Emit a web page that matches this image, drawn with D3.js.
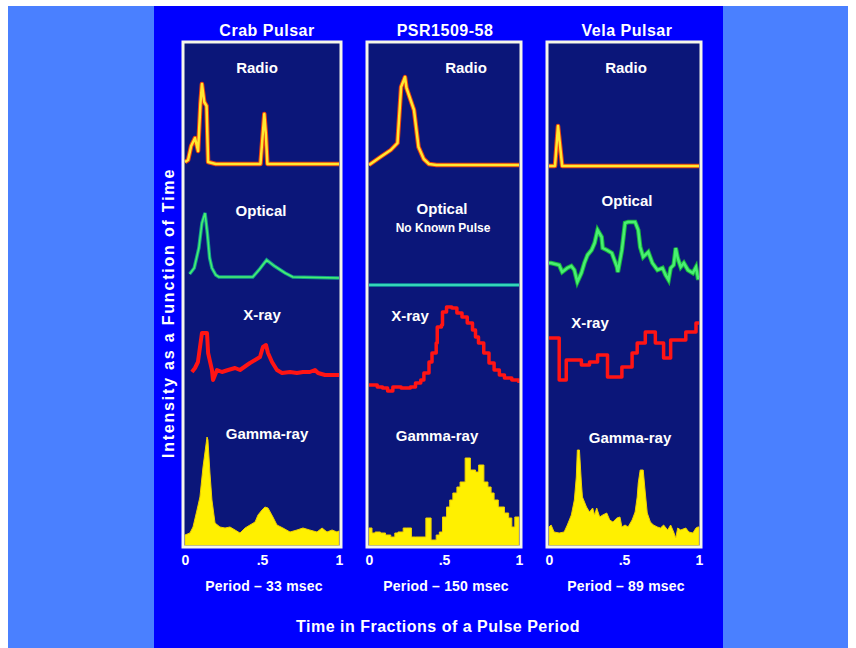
<!DOCTYPE html>
<html>
<head>
<meta charset="utf-8">
<script src="https://cdn.jsdelivr.net/npm/d3@7"></script>
<style>
  body { margin: 0; background: #fff; }
  text { font-family: "Liberation Sans", Arial, sans-serif; font-weight: bold; fill: #fff; }
</style>
</head>
<body>
<div id="chart"></div>
<script>
// pulse profiles: [phase, intensity above band baseline]
var crabRadio = [[0,2],[0.02,4],[0.04,18],[0.065,26],[0.085,13],[0.1,60],[0.11,80],[0.125,62],[0.14,58],[0.15,2],[0.2,0],[0.49,0],[0.505,30],[0.515,50],[0.525,30],[0.535,0],[1,0]];
var crabOptical = [[0.03,4],[0.06,10],[0.09,30],[0.11,55],[0.13,65],[0.145,45],[0.16,20],[0.175,10],[0.2,3],[0.22,1],[0.44,1],[0.48,8],[0.53,18],[0.58,12],[0.65,5],[0.7,1],[1,0]];
var crabXray = [[0.045,9],[0.065,13],[0.084,19],[0.11,48],[0.143,48],[0.15,28],[0.175,11],[0.182,1],[0.208,11],[0.24,9],[0.28,11],[0.325,13],[0.357,11],[0.403,16],[0.422,18],[0.455,21],[0.487,24],[0.506,34],[0.526,36],[0.539,28],[0.565,19],[0.597,11],[0.63,8],[0.682,9],[0.727,8],[0.766,9],[0.81,9],[0.844,11],[0.864,8],[0.909,6],[1,6]];
var crabGamma = [[0,10],[0.032,12],[0.052,18],[0.078,35],[0.097,48],[0.117,78],[0.143,108],[0.149,105],[0.162,72],[0.175,45],[0.195,22],[0.227,18],[0.26,17],[0.292,18],[0.325,15],[0.357,12],[0.39,17],[0.422,20],[0.455,23],[0.474,30],[0.5,35],[0.519,38],[0.539,37],[0.571,28],[0.597,20],[0.636,17],[0.682,13],[0.727,15],[0.766,17],[0.81,15],[0.857,13],[0.89,17],[0.922,13],[0.955,15],[0.987,13],[1,14]];

var psrRadio = [[0,0],[0.076,8],[0.145,15],[0.19,22],[0.214,78],[0.24,88],[0.25,77],[0.3,55],[0.33,18],[0.365,6],[0.4,1],[0.45,0],[1,0]];
var psrOptical = [[0,0],[1,0]];
var psrXray = [[0,7],[0.055,5],[0.09,4],[0.124,1],[0.159,5],[0.214,4],[0.276,5],[0.31,9],[0.345,12],[0.366,19],[0.4,30],[0.42,39],[0.448,49],[0.455,65],[0.483,67],[0.49,80],[0.517,85],[0.552,84],[0.586,79],[0.62,75],[0.655,69],[0.69,62],[0.71,55],[0.73,49],[0.765,39],[0.8,29],[0.834,22],[0.869,17],[0.903,14],[0.952,12],[1,9]];
var psrGamma = [[0,17],[0.02,12],[0.041,13],[0.076,12],[0.11,10],[0.145,8],[0.172,12],[0.193,13],[0.228,17],[0.248,17],[0.283,8],[0.31,8],[0.379,27],[0.414,5],[0.448,10],[0.469,13],[0.49,28],[0.517,38],[0.538,45],[0.559,52],[0.586,58],[0.607,63],[0.641,87],[0.676,75],[0.71,73],[0.731,80],[0.766,63],[0.793,58],[0.814,52],[0.834,45],[0.862,38],[0.903,32],[0.931,27],[0.952,18],[0.972,28],[1,28]];

var velaRadio = [[0,0],[0.04,0],[0.06,40],[0.088,0],[1,0]];
var velaOptical = [[0,22],[0.014,22],[0.068,20],[0.088,13],[0.122,17],[0.149,19],[0.169,15],[0.189,3],[0.216,12],[0.236,22],[0.257,30],[0.284,35],[0.304,42],[0.324,55],[0.351,48],[0.358,37],[0.385,35],[0.419,32],[0.453,18],[0.459,13],[0.486,35],[0.507,62],[0.527,63],[0.574,63],[0.595,55],[0.608,38],[0.628,28],[0.662,33],[0.689,22],[0.723,15],[0.757,17],[0.777,10],[0.797,5],[0.811,17],[0.831,20],[0.845,37],[0.858,27],[0.878,18],[0.899,22],[0.926,15],[0.959,12],[0.98,18],[0.993,7],[1,7]];
var velaXray = [[0,47],[0.068,5],[0.115,25],[0.216,20],[0.27,23],[0.324,30],[0.39,8],[0.486,18],[0.554,32],[0.588,42],[0.642,53],[0.709,42],[0.764,27],[0.811,45],[0.912,53],[0.98,62],[1,62]];
var velaGamma = [[0,18],[0.014,20],[0.034,13],[0.068,12],[0.101,13],[0.122,20],[0.149,30],[0.169,45],[0.182,68],[0.189,95],[0.203,95],[0.216,62],[0.223,48],[0.25,38],[0.27,33],[0.291,37],[0.304,30],[0.318,37],[0.338,28],[0.358,30],[0.385,32],[0.405,25],[0.426,23],[0.453,27],[0.473,28],[0.486,18],[0.507,20],[0.527,18],[0.554,25],[0.574,33],[0.588,48],[0.595,62],[0.608,75],[0.628,75],[0.642,52],[0.655,32],[0.676,23],[0.696,20],[0.723,18],[0.743,17],[0.764,20],[0.791,15],[0.811,20],[0.831,13],[0.845,7],[0.858,17],[0.878,15],[0.912,17],[0.932,13],[0.959,12],[0.98,17],[0.993,18],[1,18]];

var pulsarNames = ["Crab Pulsar", "PSR1509-58", "Vela Pulsar"];
var periodLabels = ["Period \u2013 33 msec", "Period \u2013 150 msec", "Period \u2013 89 msec"];
var tickValues = [0, 0.5, 1];
var tickLabels = ["0", ".5", "1"];

var width = 856, height = 648;

var svg = d3.select("#chart").append("svg")
    .attr("width", width)
    .attr("height", height);

// backgrounds
svg.append("rect").attr("x", 8).attr("y", 6).attr("width", 840).attr("height", 642).attr("fill", "#4a80ff");
svg.append("rect").attr("x", 154).attr("y", 6).attr("width", 569).attr("height", 642).attr("fill", "#0000ff");

// panel layout (box edges, band baselines, label positions)
var panels = [
  { left: 183, right: 341, titleX: 267,
    base: { radio: 164, optical: 278, xray: 381, gamma: 545 },
    labels: [["Radio", 257, 73, 15], ["Optical", 261, 216, 15], ["X-ray", 262, 320, 15], ["Gamma-ray", 267, 439, 15]],
    series: { radio: crabRadio, optical: crabOptical, xray: crabXray, gamma: crabGamma }, step: false },
  { left: 367, right: 521, titleX: 445,
    base: { radio: 165, optical: 285, xray: 392, gamma: 545 },
    labels: [["Radio", 466, 73, 15], ["Optical", 442, 214, 15], ["No Known Pulse", 443, 232, 12], ["X-ray", 410, 321, 15], ["Gamma-ray", 437, 441, 15]],
    series: { radio: psrRadio, optical: psrOptical, xray: psrXray, gamma: psrGamma }, step: true },
  { left: 547, right: 701, titleX: 627,
    base: { radio: 166, optical: 285, xray: 385, gamma: 545 },
    labels: [["Radio", 626, 73, 15], ["Optical", 627, 206, 15], ["X-ray", 590, 328, 15], ["Gamma-ray", 630, 443, 15]],
    series: { radio: velaRadio, optical: velaOptical, xray: velaXray, gamma: velaGamma }, step: false }
];
var panelTop = 42, panelBottom = 547;

panels.forEach(function(p, i) {
    var g = svg.append("g");
    var x = d3.scaleLinear().domain([0, 1]).range([p.left + 2, p.right - 2]);
    function yScale(band) {
        return d3.scaleLinear().domain([0, 100]).range([p.base[band], p.base[band] - 100]);
    }

    g.append("clipPath").attr("id", "clip" + i)
      .append("rect")
        .attr("x", p.left + 1.5).attr("y", panelTop + 1.5)
        .attr("width", p.right - p.left - 3).attr("height", panelBottom - panelTop - 3);

    g.append("rect")
        .attr("x", p.left).attr("y", panelTop)
        .attr("width", p.right - p.left).attr("height", panelBottom - panelTop)
        .attr("fill", "#0b1679");

    var plot = g.append("g").attr("clip-path", "url(#clip" + i + ")");

    // gamma-ray: filled histogram
    var yg = yScale("gamma");
    var area = d3.area()
        .x(function(d) { return x(d[0]); })
        .y0(yg(-5))
        .y1(function(d) { return yg(d[1]); })
        .curve(p.step ? d3.curveStepAfter : d3.curveLinear);
    plot.append("path")
        .datum(p.series.gamma)
        .attr("d", area)
        .attr("fill", "#fff000")
        .attr("stroke", "#f0d000")
        .attr("stroke-width", 1);

    // x-ray
    var yx = yScale("xray");
    var xrayLine = d3.line()
        .x(function(d) { return x(d[0]); })
        .y(function(d) { return yx(d[1]); })
        .curve(i > 0 ? d3.curveStepAfter : d3.curveLinear);
    plot.append("path")
        .datum(p.series.xray)
        .attr("d", xrayLine)
        .attr("fill", "none")
        .attr("stroke", "#ff1414")
        .attr("stroke-width", i == 0 ? 4 : 3.5)
        .attr("stroke-linejoin", "round");

    // optical
    var yo = yScale("optical");
    var optLine = d3.line()
        .x(function(d) { return x(d[0]); })
        .y(function(d) { return yo(d[1]); });
    plot.append("path")
        .datum(p.series.optical)
        .attr("d", optLine)
        .attr("fill", "none")
        .attr("stroke", i == 0 ? "#12a08a" : (i == 1 ? "#10a0a0" : "#18b040"))
        .attr("stroke-width", i == 2 ? 4.5 : 3.5);
    plot.append("path")
        .datum(p.series.optical)
        .attr("d", optLine)
        .attr("fill", "none")
        .attr("stroke", i == 1 ? "#40e8c0" : "#48f070")
        .attr("stroke-width", i == 2 ? 2.5 : 1.5);

    // radio
    var yr = yScale("radio");
    var radioLine = d3.line()
        .x(function(d) { return x(d[0]); })
        .y(function(d) { return yr(d[1]); });
    plot.append("path")
        .datum(p.series.radio)
        .attr("d", radioLine)
        .attr("fill", "none")
        .attr("stroke", "#e84010")
        .attr("stroke-width", 4.5)
        .attr("stroke-linejoin", "round");
    plot.append("path")
        .datum(p.series.radio)
        .attr("d", radioLine)
        .attr("fill", "none")
        .attr("stroke", "#ffe830")
        .attr("stroke-width", 2.5)
        .attr("stroke-linejoin", "round");

    // border
    g.append("rect")
        .attr("x", p.left).attr("y", panelTop)
        .attr("width", p.right - p.left).attr("height", panelBottom - panelTop)
        .attr("fill", "none")
        .attr("stroke", "#f6f6ea")
        .attr("stroke-width", 3);

    // band labels
    g.selectAll("text.band")
        .data(p.labels)
        .enter().append("text")
        .attr("class", "band")
        .attr("x", function(d) { return d[1]; })
        .attr("y", function(d) { return d[2]; })
        .attr("text-anchor", "middle")
        .style("font-size", function(d) { return d[3] + "px"; })
        .text(function(d) { return d[0]; });

    // pulsar title
    g.append("text")
        .attr("x", p.titleX).attr("y", 36)
        .attr("text-anchor", "middle")
        .style("font-size", "16px")
        .style("letter-spacing", "0.5px")
        .text(pulsarNames[i]);

    // phase axis
    var axis = g.append("g")
        .attr("transform", "translate(0," + panelBottom + ")")
        .call(d3.axisBottom(x)
            .tickValues(tickValues)
            .tickFormat(function(d, j) { return tickLabels[j]; })
            .tickSize(0)
            .tickPadding(8));
    axis.select(".domain").remove();
    axis.selectAll("text")
        .attr("fill", "#fff")
        .style("font-family", "'Liberation Sans', Arial, sans-serif")
        .style("font-weight", "bold")
        .style("font-size", "14px");

    g.append("text")
        .attr("x", (p.left + p.right) / 2 + 2).attr("y", 591)
        .attr("text-anchor", "middle")
        .style("font-size", "14px")
        .style("letter-spacing", "0.2px")
        .text(periodLabels[i]);
});

// axis titles
svg.append("text")
    .attr("transform", "translate(174,313) rotate(-90)")
    .attr("text-anchor", "middle")
    .style("font-size", "16px")
    .style("letter-spacing", "1.8px")
    .text("Intensity as a Function of Time");

svg.append("text")
    .attr("x", 438).attr("y", 632)
    .attr("text-anchor", "middle")
    .style("font-size", "16px")
    .style("letter-spacing", "0.5px")
    .text("Time in Fractions of a Pulse Period");
</script>
</body>
</html>
